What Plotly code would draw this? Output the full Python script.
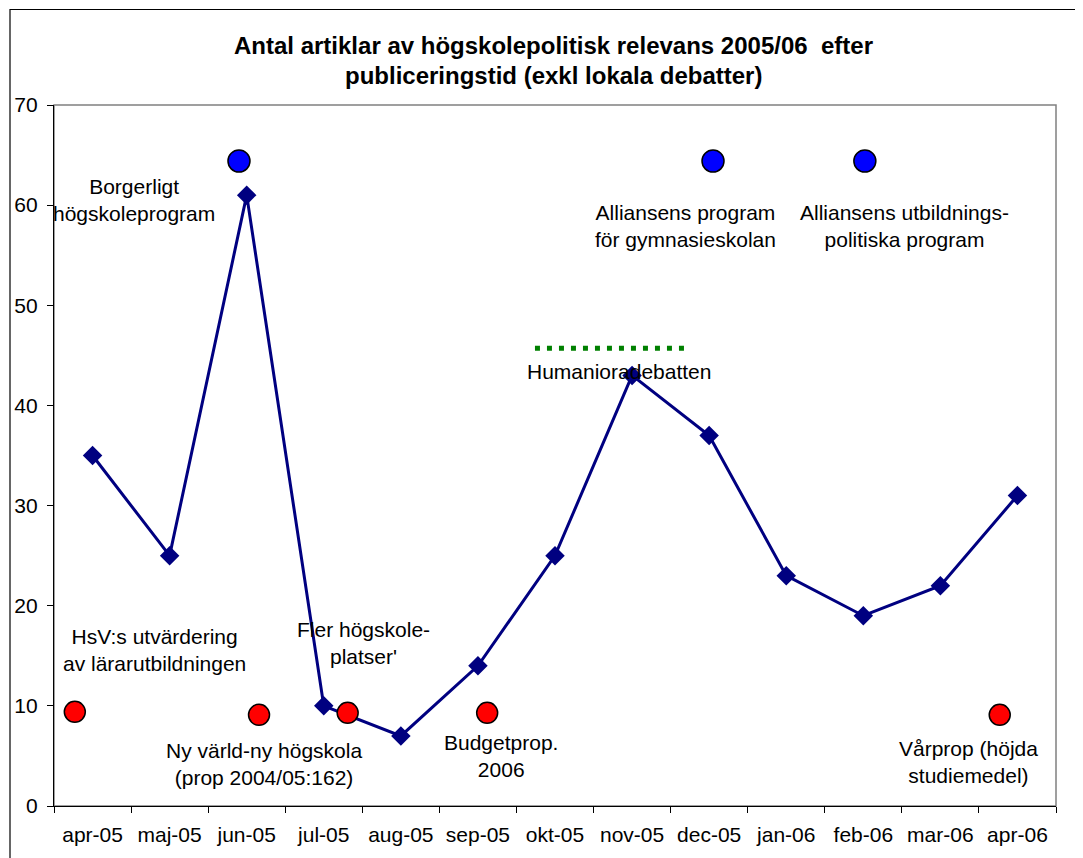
import plotly.graph_objects as go

# ---- data ----
months = ["apr-05", "maj-05", "jun-05", "jul-05", "aug-05", "sep-05", "okt-05",
          "nov-05", "dec-05", "jan-06", "feb-06", "mar-06", "apr-06"]
articles = [35, 25, 61, 10, 7, 14, 25, 43, 37, 23, 19, 22, 31]

# event markers (x in month-index units)
blue_x = [1.90, 8.05, 10.02]
blue_y = [64.4, 64.4, 64.4]
red_x = [-0.23, 2.16, 3.31, 5.12, 11.77]
red_y = [9.4, 9.1, 9.3, 9.3, 9.1]
green_x = [5.74, 7.76]
green_y = [45.7, 45.7]

labels = [
    ("Borgerligt<br>högskoleprogram", 0.54, 60.5),
    ("HsV:s utvärdering<br>av lärarutbildningen", 0.80, 15.6),
    ("Ny värld-ny högskola<br>(prop 2004/05:162)", 2.22, 4.2),
    ("Fler högskole-<br>platser'", 3.52, 16.3),
    ("Budgetprop.<br>2006", 5.30, 5.0),
    ("Humanioradebatten", 6.83, 43.4),
    ("Alliansens program<br>för gymnasieskolan", 7.69, 57.9),
    ("Alliansens utbildnings-<br>politiska program", 10.54, 57.9),
    ("Vårprop (höjda<br>studiemedel)", 11.37, 4.4),
]

title_lines = ["Antal artiklar av högskolepolitisk relevans 2005/06  efter",
               "publiceringstid (exkl lokala debatter)"]

FONT = "Liberation Sans, Arial, sans-serif"
OFF = 8  # page body margin
W, H = 1075, 850
L, R, T, B = 46, 27, 97, 52

x_idx = list(range(len(months)))

fig = go.Figure()
fig.add_trace(go.Scatter(x=green_x, y=green_y, mode="lines",
                         line=dict(color="#008000", width=5, dash="5px,7px"),
                         hoverinfo="skip", showlegend=False))
fig.add_trace(go.Scatter(x=x_idx, y=articles, mode="lines+markers",
                         line=dict(color="#000080", width=3),
                         marker=dict(symbol="diamond", size=15, color="#000080"),
                         showlegend=False))
fig.add_trace(go.Scatter(x=blue_x, y=blue_y, mode="markers",
                         marker=dict(symbol="circle", size=22, color="#0000FF",
                                     line=dict(color="black", width=1.5)),
                         showlegend=False))
fig.add_trace(go.Scatter(x=red_x, y=red_y, mode="markers",
                         marker=dict(symbol="circle", size=21, color="#FF0000",
                                     line=dict(color="black", width=1.5)),
                         showlegend=False))

for txt, xx, yy in labels:
    fig.add_annotation(x=xx, y=yy, xref="x", yref="y", text=txt, showarrow=False,
                       xanchor="center", yanchor="middle",
                       font=dict(family=FONT, size=21, color="black"))

pw = W - L - R
ph = H - T - B
def px2paper_x(p):  # p = screen pixel
    return (p - OFF - L) / pw
def px2paper_y(p):
    return (H - B - (p - OFF)) / ph

for line_txt, cy in zip(title_lines, [46, 75]):
    fig.add_annotation(x=px2paper_x(553), y=px2paper_y(cy), xref="paper", yref="paper",
                       text="<b>" + line_txt + "</b>",
                       showarrow=False, xanchor="center", yanchor="middle",
                       font=dict(family=FONT, size=24, color="black"))

# plot-area frame (grey) and outer chart border (black)
fig.add_shape(type="rect", xref="paper", yref="paper", x0=0, x1=1, y0=0, y1=1,
              line=dict(color="#808080", width=1.5), layer="below")
fig.add_shape(type="rect", xref="paper", yref="paper",
              x0=px2paper_x(10), x1=px2paper_x(1100), y0=px2paper_y(880), y1=px2paper_y(9.5),
              line=dict(color="black", width=1.2), layer="below")

fig.update_xaxes(range=[-0.5, len(months) - 0.5], tickmode="array", tickvals=x_idx,
                 ticktext=months, ticks="", showgrid=False, zeroline=False,
                 showline=True, linecolor="black", linewidth=1.2,
                 ticklabelstandoff=10,
                 tickfont=dict(family=FONT, size=21, color="black"),
                 minor=dict(tickmode="array",
                            tickvals=[i - 0.5 for i in range(len(months) + 1)],
                            ticks="outside", ticklen=6, tickcolor="black", tickwidth=1,
                            showgrid=False),
                 automargin=False)
fig.update_yaxes(range=[0, 70], dtick=10, ticks="outside", ticklen=6, tickcolor="black",
                 showgrid=False, zeroline=False, showline=True, linecolor="black",
                 linewidth=1.2, ticklabelstandoff=5,
                 tickfont=dict(family=FONT, size=21, color="black"),
                 automargin=False)

fig.update_layout(width=W, height=H, margin=dict(l=L, r=R, t=T, b=B, pad=0),
                  plot_bgcolor="white", paper_bgcolor="white", hovermode=False)

fig.write_html("out.html")
